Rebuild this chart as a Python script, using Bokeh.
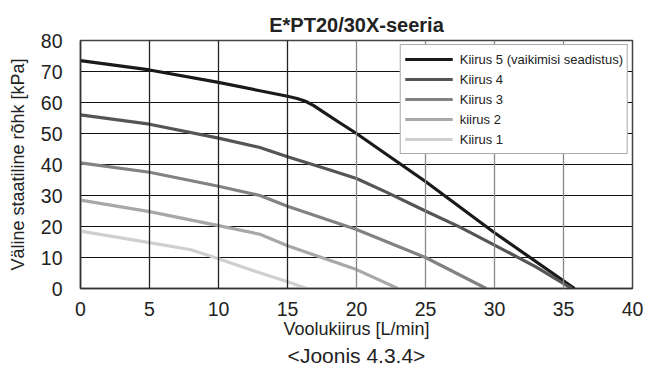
from bokeh.plotting import figure
from bokeh.models import Span, Legend, LegendItem, Title, FixedTicker, Range1d
from bokeh.embed import file_html
from bokeh.resources import INLINE

title_text = "E*PT20/30X-seeria"
x_label = "Voolukiirus [L/min]"
y_label = "Väline staatiline rõhk [kPa]"
caption = "<Joonis 4.3.4>"

x_ticks = [0, 5, 10, 15, 20, 25, 30, 35, 40]
y_ticks = [0, 10, 20, 30, 40, 50, 60, 70, 80]

names = ["Kiirus 5 (vaikimisi seadistus)", "Kiirus 4", "Kiirus 3", "kiirus 2", "Kiirus 1"]
colors = ["#1a1a1a", "#555555", "#828282", "#a8a8a8", "#cfcfcf"]

s5_x = [0, 5, 10, 13, 15, 15.7, 16.3, 16.9, 17.5, 18.7, 20, 25, 30, 35.8]
s5_y = [73.5, 70.5, 66.5, 63.8, 62, 61.3, 60.4, 59.0, 57.2, 53.7, 50, 34.5, 18, 0]
s4_x = [0, 5, 10, 13, 15, 17.8, 20, 22.2, 25, 27.5, 30, 33, 35.6]
s4_y = [56, 53, 48.5, 45.5, 42.5, 38.6, 35.5, 31, 25, 19.8, 14, 7, 0]
s3_x = [0, 5, 10, 13, 15, 20, 25, 29.4]
s3_y = [40.5, 37.5, 33, 30, 26.5, 19, 10, 0]
s2_x = [0, 5, 10, 13, 15, 20, 23.0]
s2_y = [28.5, 24.8, 20.3, 17.5, 13.8, 6.1, 0]
s1_x = [0, 5, 8, 10, 12, 15, 16.4]
s1_y = [18.5, 14.8, 12.5, 9.6, 6.5, 2.2, 0]

series_x = [s5_x, s4_x, s3_x, s2_x, s1_x]
series_y = [s5_y, s4_y, s3_y, s2_y, s1_y]

FONT = "Liberation Sans"

p = figure(width=650, height=369, output_backend="svg", toolbar_location=None,
           x_range=Range1d(0, 40), y_range=Range1d(0, 80),
           min_border_left=80, min_border_right=18, min_border_top=40, min_border_bottom=81)

p.title.text = title_text
p.title.align = "center"
p.title.text_font = FONT
p.title.text_font_size = "20px"
p.title.text_font_style = "bold"
p.title.text_color = "#222222"
p.title.offset = 0
p.title.standoff = 9

p.xaxis.ticker = FixedTicker(ticks=x_ticks)
p.yaxis.ticker = FixedTicker(ticks=y_ticks)
for ax in (p.xaxis[0], p.yaxis[0]):
    ax.major_label_text_font = FONT
    ax.major_label_text_font_size = "19.5px"
    ax.major_label_text_color = "#222222"
    ax.axis_label_text_font = FONT
    ax.axis_label_text_font_size = "18px"
    ax.axis_label_text_font_style = "normal"
    ax.axis_label_text_color = "#222222"
    ax.major_tick_line_color = None
    ax.minor_tick_line_color = None
    ax.axis_line_color = "#333333"
    ax.axis_line_width = 1.5
p.xaxis.axis_label = x_label
p.yaxis.axis_label = y_label
p.xaxis.major_label_standoff = 7
p.yaxis.major_label_standoff = 12
p.xaxis.axis_label_standoff = 0
p.yaxis.axis_label_standoff = 10

p.xgrid.grid_line_color = None
p.ygrid.ticker = FixedTicker(ticks=y_ticks)
p.ygrid.grid_line_color = "#111111"
p.ygrid.grid_line_width = 1.2
for t in x_ticks[1:-1]:
    c = "#222222" if t <= 15 else "#888888"
    p.add_layout(Span(location=t, dimension="height", line_color=c, line_width=1.3))

p.outline_line_color = "#444444"
p.outline_line_width = 1.5

renderers = []
for xs, ys, c in zip(series_x, series_y, colors):
    r = p.line(xs, ys, line_color=c, line_width=3.2, line_join="round")
    renderers.append(r)

items = [LegendItem(label=n, renderers=[r]) for n, r in zip(names, renderers)]
legend = Legend(items=items, location="top_right")
legend.label_text_font = FONT
legend.label_text_font_size = "13px"
legend.label_text_color = "#222222"
legend.glyph_width = 48
legend.glyph_height = 20
legend.label_height = 20
legend.spacing = 0
legend.padding = 4
legend.margin = 4
legend.label_standoff = 7
legend.border_line_color = "#555555"
legend.border_line_width = 1.5
legend.background_fill_alpha = 1
p.add_layout(legend)

cap = Title(text=caption, align="center", text_font=FONT, text_font_size="21px",
            text_font_style="normal", text_color="#222222", standoff=0)
p.add_layout(cap, "below")

open("out.html", "w").write(file_html(p, INLINE))
